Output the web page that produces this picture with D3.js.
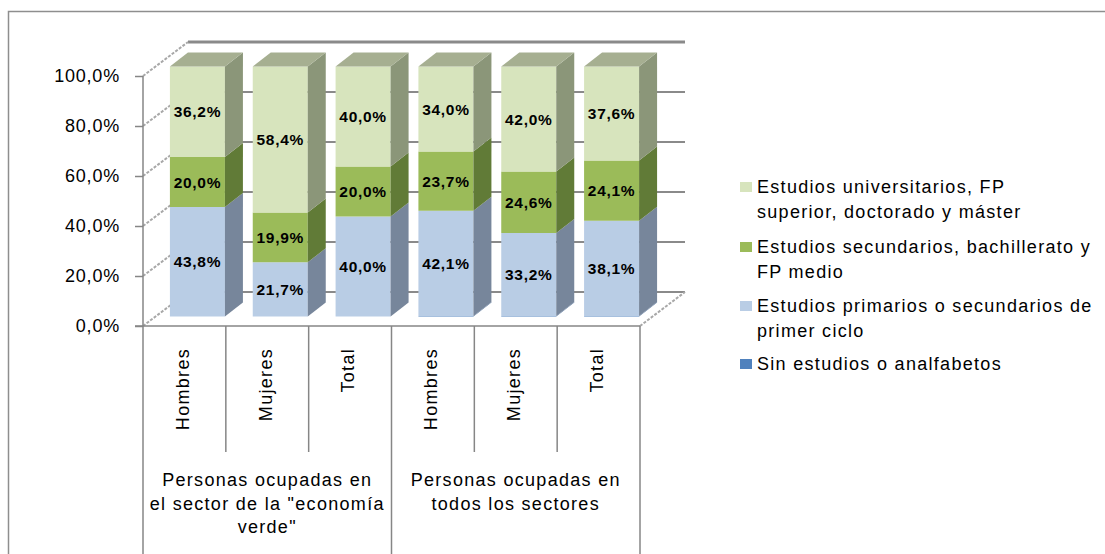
<!DOCTYPE html>
<html><head><meta charset="utf-8">
<script src="https://cdn.jsdelivr.net/npm/d3@7"></script>
<style>
body{margin:0;background:#fff}
svg{display:block}
text{font-family:"Liberation Sans",Arial,sans-serif;fill:#000}
</style>
</head><body>
<svg id="c" width="1105" height="554"></svg>
<script>
// ---------- data ----------
const categories = ["Hombres","Mujeres","Total","Hombres","Mujeres","Total"];
const groupLabels = [
  ["Personas ocupadas en","el sector de la \"economía","verde\""],
  ["Personas ocupadas en","todos los sectores"]
];
const seriesKeys = ["sin","prim","sec","univ"];
const legendLabels = [
  ["Estudios universitarios, FP","superior, doctorado y máster"],
  ["Estudios secundarios, bachillerato y","FP medio"],
  ["Estudios primarios o secundarios de","primer ciclo"],
  ["Sin estudios o analfabetos"]
];
const sinEstudios    = [0, 0, 0, 0.2, 0.2, 0.2];
const primarios      = [43.8, 21.7, 40.0, 42.1, 33.2, 38.1];
const secundarios    = [20.0, 19.9, 20.0, 23.7, 24.6, 24.1];
const universitarios = [36.2, 58.4, 40.0, 34.0, 42.0, 37.6];
const yTicks = [0, 20, 40, 60, 80, 100];

// ---------- styles ----------
const front = {sin:"#4F81BD", prim:"#B9CDE5", sec:"#9BBB59", univ:"#D7E4BD"};
const side  = {sin:"#3B6190", prim:"#77869B", sec:"#617B37", univ:"#8B9679"};
const topC  = {sin:"#6E90BC", prim:"#95A5B8", sec:"#7E9A4A", univ:"#A6AF91"};
const legendOrder = ["univ","sec","prim","sin"];
const fmt = v => v.toFixed(1).replace(".", ",") + "%";

const svg = d3.select("#c");
const FX0 = 143, FX1 = 640;       // front floor
const DX = 45, DY = -34;          // total depth
const OX = 13, OY = -9.5;         // bar front face offset
const BDX = 18, BDY = -14;        // bar depth

const x = d3.scaleBand().domain(d3.range(categories.length)).range([FX0, FX1])
  .paddingInner(0.336).paddingOuter(0.168);
const y = d3.scaleLinear().domain([0, 100]).range([326, 76]);

// outer frame
svg.append("path").attr("d","M8.5,554V11.5H1105").attr("fill","none")
  .attr("stroke","#8e8e8e").attr("stroke-width",1.5);

// back wall gridlines
svg.append("g").selectAll("line").data(yTicks).join("line")
  .attr("x1", FX0 + DX).attr("x2", FX1 + DX)
  .attr("y1", d => y(d) + DY).attr("y2", d => y(d) + DY)
  .attr("stroke", "#8a8a8a").attr("stroke-width", d => d === 100 ? 3 : 2);

// side wall diagonals (left) and floor right diagonal
svg.append("g").selectAll("line").data(yTicks).join("line")
  .attr("x1", FX0).attr("y1", d => y(d))
  .attr("x2", FX0 + DX).attr("y2", d => y(d) + DY)
  .attr("stroke", "#a8a8a8").attr("stroke-width", 2).attr("stroke-dasharray","3,1.5");
svg.append("line").attr("x1", FX1).attr("y1", y(0)).attr("x2", FX1 + DX).attr("y2", y(0) + DY)
  .attr("stroke", "#a8a8a8").attr("stroke-width", 2).attr("stroke-dasharray","3,1.5");

// y axis
const yAxis = d3.axisLeft(y).tickValues(yTicks).tickFormat(fmt).tickSize(8).tickPadding(15);
const gy = svg.append("g").attr("transform", `translate(${FX0},0)`).call(yAxis);
gy.select(".domain").attr("stroke","#868686").attr("stroke-width",1.5).attr("d", `M0,${y(100)}V${y(0)}`);
gy.selectAll(".tick line").attr("stroke","#868686").attr("stroke-width",1.5);
gy.selectAll(".tick text").attr("font-size",18).attr("letter-spacing",0.8)
  .attr("font-family","Liberation Sans, Arial, sans-serif").attr("fill","#000");

// floor front line + category dividers
svg.append("line").attr("x1", FX0 - 8).attr("x2", FX1).attr("y1", y(0)).attr("y2", y(0))
  .attr("stroke","#868686").attr("stroke-width",1.5);
const step = x.step();
const dividers = d3.range(categories.length + 1);
svg.append("g").selectAll("line").data(dividers).join("line")
  .attr("x1", i => FX0 + i * step).attr("x2", i => FX0 + i * step)
  .attr("y1", y(0))
  .attr("y2", i => (i % 3 === 0) ? 554 : 452)
  .attr("stroke","#868686").attr("stroke-width",1.5);

// stacked bars
const rows = categories.map((c, i) => ({i, sin: sinEstudios[i], prim: primarios[i], sec: secundarios[i], univ: universitarios[i]}));
const stack = d3.stack().keys(seriesKeys)(rows);
const segs = [];
rows.forEach((r, i) => {
  stack.forEach(layer => {
    const d = layer[i];
    segs.push({i, key: layer.key, y0: d[0], y1: d[1], v: d[1] - d[0]});
  });
});
const bw = x.bandwidth();
const gb = svg.append("g");
rows.forEach((r, i) => {
  const xl = x(i) + OX, xr = xl + bw;
  const mySegs = segs.filter(s => s.i === i && s.v > 0);
  const g = gb.append("g");
  g.selectAll("rect.front").data(mySegs).join("rect").attr("class","front")
    .attr("x", xl).attr("width", bw)
    .attr("y", s => y(s.y1) + OY).attr("height", s => y(s.y0) - y(s.y1))
    .attr("fill", s => front[s.key]);
  g.selectAll("path.side").data(mySegs).join("path").attr("class","side")
    .attr("d", s => {
      const yt = y(s.y1) + OY, yb = y(s.y0) + OY;
      return `M${xr},${yt}L${xr + BDX},${yt + BDY}L${xr + BDX},${yb + BDY}L${xr},${yb}Z`;
    })
    .attr("fill", s => side[s.key]);
  const top = mySegs[mySegs.length - 1];
  const yt = y(top.y1) + OY;
  g.append("path")
    .attr("d", `M${xl},${yt}L${xl + BDX},${yt + BDY}L${xr + BDX},${yt + BDY}L${xr},${yt}Z`)
    .attr("fill", topC[top.key]);
});

// data labels
svg.append("g").selectAll("text").data(segs.filter(s => s.key !== "sin")).join("text")
  .attr("x", s => x(s.i) + OX + bw / 2)
  .attr("y", s => (y(s.y0) + y(s.y1)) / 2 + OY)
  .attr("dy", "0.36em")
  .attr("text-anchor", "middle")
  .attr("font-size", 15.5).attr("font-weight", "bold").attr("letter-spacing", 0.7)
  .text(s => fmt(s.v));

// category labels (rotated)
svg.append("g").selectAll("text").data(categories).join("text")
  .attr("transform", (c, i) => `translate(${x(i) + bw / 2 - 2},348) rotate(-90)`)
  .attr("text-anchor", "end").attr("dy", "0.35em")
  .attr("font-size", 18).attr("letter-spacing", 1.3)
  .text(c => c);

// group labels
groupLabels.forEach((lines, gi) => {
  const cx = FX0 + (gi * 3 + 1.5) * step;
  svg.append("g").selectAll("text").data(lines).join("text")
    .attr("x", cx).attr("y", (l, k) => 480 + k * 23.5).attr("dy", "0.35em")
    .attr("text-anchor", "middle").attr("font-size", 18).attr("letter-spacing", 1.3)
    .text(l => l);
});

// legend
const lg = svg.append("g");
const entryY = [187, 247, 306, 364];
legendOrder.forEach((k, n) => {
  lg.append("rect").attr("x", 740).attr("y", entryY[n] - 5).attr("width", 12).attr("height", 10)
    .attr("fill", front[k]);
  lg.append("g").selectAll("text").data(legendLabels[n]).join("text")
    .attr("x", 757).attr("y", (l, j) => entryY[n] + j * 24.5).attr("dy", "0.35em")
    .attr("font-size", 18).attr("letter-spacing", 1.3)
    .text(l => l);
});
</script>
</body></html>
